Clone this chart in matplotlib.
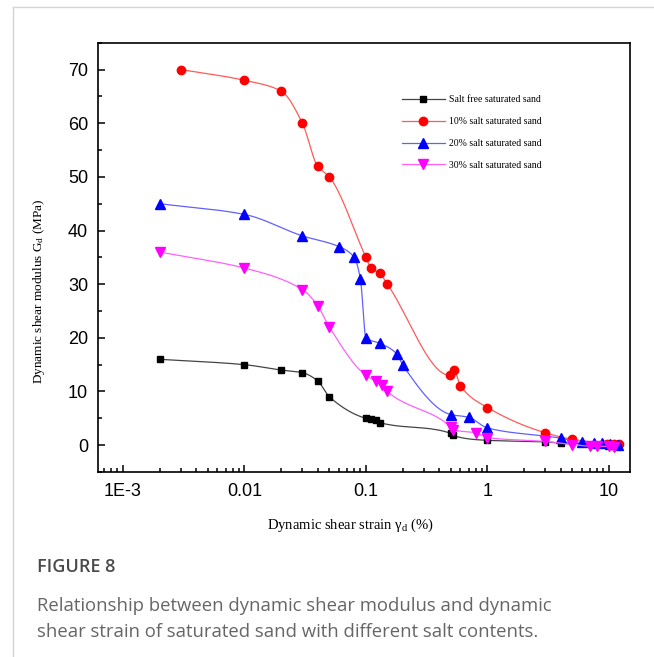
import numpy as np
import matplotlib
matplotlib.use("Agg")
import matplotlib.pyplot as plt
from matplotlib.lines import Line2D
from matplotlib.ticker import FixedLocator, FixedFormatter, LogLocator, MultipleLocator, NullFormatter

plt.rcParams["mathtext.fontset"] = "custom"
plt.rcParams["mathtext.rm"] = "Liberation Serif"

# dynamic shear strain (%) and modulus (MPa) per salt content
x_free = [0.002, 0.01, 0.02, 0.03, 0.04, 0.05, 0.1, 0.11, 0.12, 0.13, 0.5, 0.52, 1, 3, 4, 10, 11]
g_free = [16, 15, 14, 13.5, 12, 9, 5, 4.8, 4.6, 4.2, 2.2, 1.8, 0.9, 0.6, 0.4, 0.2, 0.1]

x_10 = [0.003, 0.01, 0.02, 0.03, 0.04, 0.05, 0.1, 0.11, 0.13, 0.15, 0.49, 0.53, 0.6, 1, 3, 5, 9.6, 11, 12]
g_10 = [70, 68, 66, 60, 52, 50, 35, 33, 32, 30, 13, 14, 11, 7, 2.3, 1.1, 0.3, 0.2, 0.2]

x_20 = [0.002, 0.01, 0.03, 0.06, 0.08, 0.09, 0.1, 0.13, 0.18, 0.2, 0.5, 0.7, 1, 4, 6, 7.6, 8.8, 10.2, 11.8]
g_20 = [45, 43, 39, 37, 35, 31, 20, 19, 17, 15, 5.7, 5.2, 3.2, 1.3, 0.5, 0.4, 0.4, 0.2, 0.1]

x_30 = [0.002, 0.01, 0.03, 0.04, 0.05, 0.1, 0.12, 0.135, 0.15, 0.5, 0.52, 0.8, 1, 3, 5, 7, 8, 10, 11]
g_30 = [36, 33, 29, 26, 22, 13, 12, 11.3, 10, 3.4, 2.9, 2.3, 1.4, 0.7, 0.1, -0.2, -0.2, -0.2, -0.3]

labels = ["Salt free saturated sand", "10% salt saturated sand",
          "20% salt saturated sand", "30% salt saturated sand"]

x_ticks = [1e-3, 1e-2, 1e-1, 1, 10]
x_ticklabels = ["1E-3", "0.01", "0.1", "1", "10"]


def smooth_line(xs, ys, n=20):
    # monotone cubic (pchip style) through the points, in log-x space, just for drawing the line
    t = np.log10(np.asarray(xs, float))
    y = np.asarray(ys, float)
    h = np.diff(t)
    d = np.diff(y) / h
    m = np.zeros_like(y)
    for i in range(1, len(y) - 1):
        if d[i - 1] * d[i] > 0:
            w1 = 2 * h[i] + h[i - 1]
            w2 = h[i] + 2 * h[i - 1]
            m[i] = (w1 + w2) / (w1 / d[i - 1] + w2 / d[i])
    m[0], m[-1] = d[0], d[-1]
    tt, yy = [], []
    for i in range(len(h)):
        s = np.linspace(0, 1, n, endpoint=False)
        h00 = 2 * s**3 - 3 * s**2 + 1
        h10 = s**3 - 2 * s**2 + s
        h01 = -2 * s**3 + 3 * s**2
        h11 = s**3 - s**2
        tt.append(t[i] + s * h[i])
        yy.append(h00 * y[i] + h10 * h[i] * m[i] + h01 * y[i + 1] + h11 * h[i] * m[i + 1])
    tt.append([t[-1]])
    yy.append([y[-1]])
    return 10 ** np.concatenate(tt), np.concatenate(yy)


fig = plt.figure(figsize=(6.54, 6.57), dpi=100)
ax = fig.add_axes([0.1494, 0.2816, 0.8139, 0.6534])

series = [
    (x_free, g_free, "s", "black", "#444444", 5),
    (x_10, g_10, "o", "red", "#ff5a5a", 6),
    (x_20, g_20, "^", "blue", "#6060ff", 6.5),
    (x_30, g_30, "v", "magenta", "#ff60ff", 6.5),
]
handles = []
for (xs, ys, m, c, lc, ms), lab in zip(series, labels):
    sx, sy = smooth_line(xs, ys)
    ax.plot(sx, sy, color=lc, lw=0.9)
    ax.plot(xs, ys, ls="none", marker=m, ms=ms, mfc=c, mec=c)
    handles.append(Line2D([], [], color=lc, lw=0.9, marker=m, ms=ms, mfc=c, mec=c, label=lab))

ax.set_xscale("log")
ax.set_xlim(6.2e-4, 14.9)
ax.set_ylim(-5, 75)

ax.xaxis.set_major_locator(FixedLocator(x_ticks))
ax.xaxis.set_major_formatter(FixedFormatter(x_ticklabels))
ax.xaxis.set_minor_locator(LogLocator(base=10, subs=np.arange(2, 10)))
ax.xaxis.set_minor_formatter(NullFormatter())
ax.yaxis.set_major_locator(MultipleLocator(10))
ax.yaxis.set_minor_locator(MultipleLocator(5))

ax.tick_params(which="both", direction="in", top=False, right=False, width=1.1)
ax.tick_params(which="major", length=5)
ax.tick_params(which="minor", length=3)
ax.tick_params(axis="y", pad=7)
ax.tick_params(axis="x", pad=8)
for lbl in ax.get_xticklabels() + ax.get_yticklabels():
    lbl.set_fontfamily("Liberation Sans")
    lbl.set_fontsize(13)
for sp in ax.spines.values():
    sp.set_linewidth(1.2)

ax.set_ylabel(r"Dynamic shear modulus $\mathregular{G_d}$ (MPa)", family="Liberation Serif", fontsize=9.5)
ax.yaxis.set_label_coords(-0.095, 0.42)
ax.set_xlabel(r"Dynamic shear strain γ$\mathregular{_d}$ (%)", family="Liberation Serif", fontsize=10.5)
ax.xaxis.set_label_coords(0.474, -0.105)

ax.legend(handles=handles, loc="upper left", bbox_to_anchor=(0.555, 0.898), frameon=False,
          prop={"family": "Liberation Serif", "size": 7},
          handlelength=4.4, handletextpad=0.4, labelspacing=1.32)

# page frame and caption
fig.add_artist(Line2D([13 / 654, 13 / 654], [0, 1 - 7 / 657], color="#d4d4d4", lw=1, transform=fig.transFigure))
fig.add_artist(Line2D([13 / 654, 1], [1 - 7 / 657, 1 - 7 / 657], color="#d4d4d4", lw=1, transform=fig.transFigure))
fig.text(37 / 654, 1 - 572 / 657, "FIGURE 8", family="Open Sans", fontsize=13, color="#4a4a4a", weight="semibold")
fig.text(37 / 654, 1 - 611 / 657, "Relationship between dynamic shear modulus and dynamic",
         family="Open Sans", fontsize=13.3, color="#666666")
fig.text(37 / 654, 1 - 637 / 657, "shear strain of saturated sand with different salt contents.",
         family="Open Sans", fontsize=13.3, color="#666666")

fig.savefig("out.png", dpi=100)
